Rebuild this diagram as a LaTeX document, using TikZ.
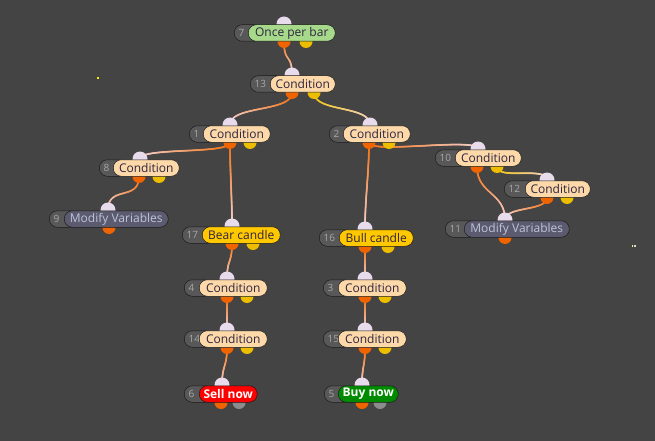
\documentclass[tikz,border=0pt]{standalone}
\usepackage{fontspec}
\setmainfont{Open Sans}
\usetikzlibrary{decorations.markings}
\definecolor{bgc}{HTML}{444444}
\definecolor{badgec}{HTML}{585858}
\definecolor{numc}{HTML}{A8A8A8}
\definecolor{condc}{HTML}{FDD9A9}
\definecolor{condt}{HTML}{2E2440}
\definecolor{oncec}{HTML}{A6D98A}
\definecolor{candc}{HTML}{FFC800}
\definecolor{modc}{HTML}{5C5A6E}
\definecolor{modt}{HTML}{BCC4DC}
\definecolor{sellc}{HTML}{FF0000}
\definecolor{buyc}{HTML}{008A00}
\definecolor{portO}{HTML}{F06400}
\definecolor{portY}{HTML}{EDBE00}
\definecolor{portG}{HTML}{8C8C8C}
\definecolor{portI}{HTML}{E8DCEC}
\definecolor{lineO}{HTML}{F2700F}
\definecolor{lineY}{HTML}{F0C40A}
\definecolor{lineP}{HTML}{F4D2D0}
\pgfdeclarelayer{bgl}
\pgfdeclarelayer{conn}
\pgfdeclarelayer{ports}
\pgfsetlayers{bgl,conn,ports,main}
\tikzset{
  badge/.style={fill=badgec, rounded corners=8pt, minimum height=16.5pt, inner sep=0pt, anchor=west, draw=black!60!bgc, line width=0.5pt},
  numtext/.style={anchor=west, inner sep=0pt, text=numc, font=\fontsize{10}{11}\selectfont},
  pill/.style={rounded corners=8pt, minimum height=16.5pt, inner sep=0pt, anchor=west, draw=black!60!bgc, line width=0.5pt, font=\fontsize{12}{13}\selectfont},
  cond/.style={pill, fill=condc, text=condt},
  once/.style={pill, fill=oncec, text=condt},
  cand/.style={pill, fill=candc, text=condt},
  modv/.style={pill, fill=modc, text=modt},
  sell/.style={pill, fill=sellc, text=white, font=\fontsize{12}{13}\selectfont\bfseries},
  buy/.style={pill, fill=buyc, text=white, font=\fontsize{12}{13}\selectfont\bfseries},
  inport/.style={circle, fill=portI, minimum size=15pt, inner sep=0pt},
  oport/.style={circle, fill=portO, minimum size=13pt, inner sep=0pt},
  yport/.style={circle, fill=portY, minimum size=13pt, inner sep=0pt},
  gport/.style={circle, fill=portG, minimum size=13pt, inner sep=0pt},
  grad/.style n args={2}{postaction={decorate, decoration={markings,
    mark=between positions 0 and 1 step 0.4pt with {%
      \pgfmathtruncatemacro\pp{100*\pgfkeysvalueof{/pgf/decoration/mark info/distance from start}/\pgfdecoratedpathlength}%
      \fill[#2!\pp!#1] (0,0) circle (0.9pt);
    }}}},
  oconn/.style={grad={lineO}{lineP}},
  yconn/.style={grad={lineY}{lineP}}
}
\newcommand\fnode[9]{%
  \begin{pgfonlayer}{ports}
    \node[inport] (i#1) at (#8,#5-9) {};
    \node[oport] (o#1) at (#9,#5+8.5) {};
  \end{pgfonlayer}
  \node[badge, minimum width=#3-#2+14] (b#1) at (#2,#5) {};
  \node[numtext] (t#1) at (#2+4.5,#5) {#1};
  \node[#6, minimum width=#4-#3] (n#1) at (#3,#5) {#7};
}
\begin{document}
\begin{tikzpicture}[x=1pt,y=-1pt]
\begin{pgfonlayer}{bgl}
\fill[bgc] (0,0) rectangle (655,441);
% tiny specks
\fill[yellow] (96.5,77) rectangle (99,79.5);
\fill[yellow!60!white] (631.5,245) rectangle (633,246.5);
\fill[white!80!bgc] (634,245) rectangle (635.5,246.5);
\end{pgfonlayer}
\useasboundingbox (0,0) rectangle (655,441);

\fnode{7}{234}{248}{335}{33}{once}{Once per bar}{284}{284}
\fnode{13}{250}{270}{335}{84}{cond}{Condition}{292}{292}
\fnode{1}{189}{203}{270}{134}{cond}{Condition}{230}{230}
\fnode{2}{329}{343}{410}{134}{cond}{Condition}{370}{369}
\fnode{8}{99}{113}{179}{168}{cond}{Condition}{140}{139}
\fnode{9}{49}{64}{168}{219}{modv}{Modify Variables}{108}{109}
\fnode{10}{435}{455}{521}{158}{cond}{Condition}{478}{477}
\fnode{12}{504}{525}{590}{189}{cond}{Condition}{547}{547}
\fnode{11}{445}{464}{569}{229}{modv}{Modify Variables}{505}{505}
\fnode{17}{182}{202}{280}{235}{cand}{Bear candle}{232}{232}
\fnode{16}{319}{339}{413}{238}{cand}{Bull candle}{365}{365}
\fnode{4}{184}{199}{267}{288}{cond}{Condition}{227}{227}
\fnode{14}{184}{199}{267}{339}{cond}{Condition}{227}{227}
\fnode{6}{184}{199}{257}{394}{sell}{Sell now}{222}{221}
\fnode{3}{323}{338}{406}{288}{cond}{Condition}{365}{365}
\fnode{15}{323}{338}{406}{339}{cond}{Condition}{365}{365}
\fnode{5}{324}{338}{398}{394}{buy}{Buy now}{362}{362}

\begin{pgfonlayer}{ports}
  \node[yport] (y7) at (306,41.5) {};
  \node[yport] (y13) at (314,92.5) {};
  \node[yport] (y1) at (250,142.5) {};
  \node[yport] (y2) at (389,142.5) {};
  \node[yport] (y8) at (159,176.5) {};
  \node[yport] (y10) at (497,166.5) {};
  \node[yport] (y12) at (567,197.5) {};
  \node[yport] (y17) at (253,243.5) {};
  \node[yport] (y16) at (388,246.5) {};
  \node[yport] (y4) at (247,296.5) {};
  \node[yport] (y14) at (247,347.5) {};
  \node[yport] (y3) at (385,296.5) {};
  \node[yport] (y15) at (385,347.5) {};
  \node[gport] (g6) at (239,402.5) {};
  \node[gport] (g5) at (380,402.5) {};
\end{pgfonlayer}

\begin{pgfonlayer}{conn}
  \path[oconn] (o7.center) .. controls +(0,22) and +(0,-22) .. (i13.center);
  \path[oconn] (o13.center) .. controls +(0,20) and +(0,-20) .. (i1.center);
  \path[yconn] (y13.center) .. controls +(0,20) and +(0,-20) .. (i2.center);
  \path[oconn] (o1.center) .. controls +(0,12) and +(0,-12) .. (i8.center);
  \path[oconn] (o1.center) .. controls +(0,30) and +(0,-30) .. (i17.center);
  \path[oconn] (o2.center) .. controls +(0,30) and +(0,-30) .. (i16.center);
  \path[oconn] (o2.center) .. controls +(0,12) and +(0,-12) .. (i10.center);
  \path[oconn] (o8.center) .. controls +(0,25) and +(0,-25) .. (i9.center);
  \path[oconn] (o10.center) .. controls +(0,28) and +(0,-28) .. (i11.center);
  \path[yconn] (y10.center) .. controls +(0,14) and +(0,-14) .. (i12.center);
  \path[oconn] (o12.center) .. controls +(0,14) and +(0,-14) .. (i11.center);
  \path[oconn] (o17.center) .. controls +(0,20) and +(0,-20) .. (i4.center);
  \path[oconn] (o4.center) .. controls +(0,15) and +(0,-15) .. (i14.center);
  \path[oconn] (o14.center) .. controls +(0,20) and +(0,-20) .. (i6.center);
  \path[oconn] (o16.center) .. controls +(0,15) and +(0,-15) .. (i3.center);
  \path[oconn] (o3.center) .. controls +(0,15) and +(0,-15) .. (i15.center);
  \path[oconn] (o15.center) .. controls +(0,20) and +(0,-20) .. (i5.center);
\end{pgfonlayer}
\end{tikzpicture}
\end{document}
